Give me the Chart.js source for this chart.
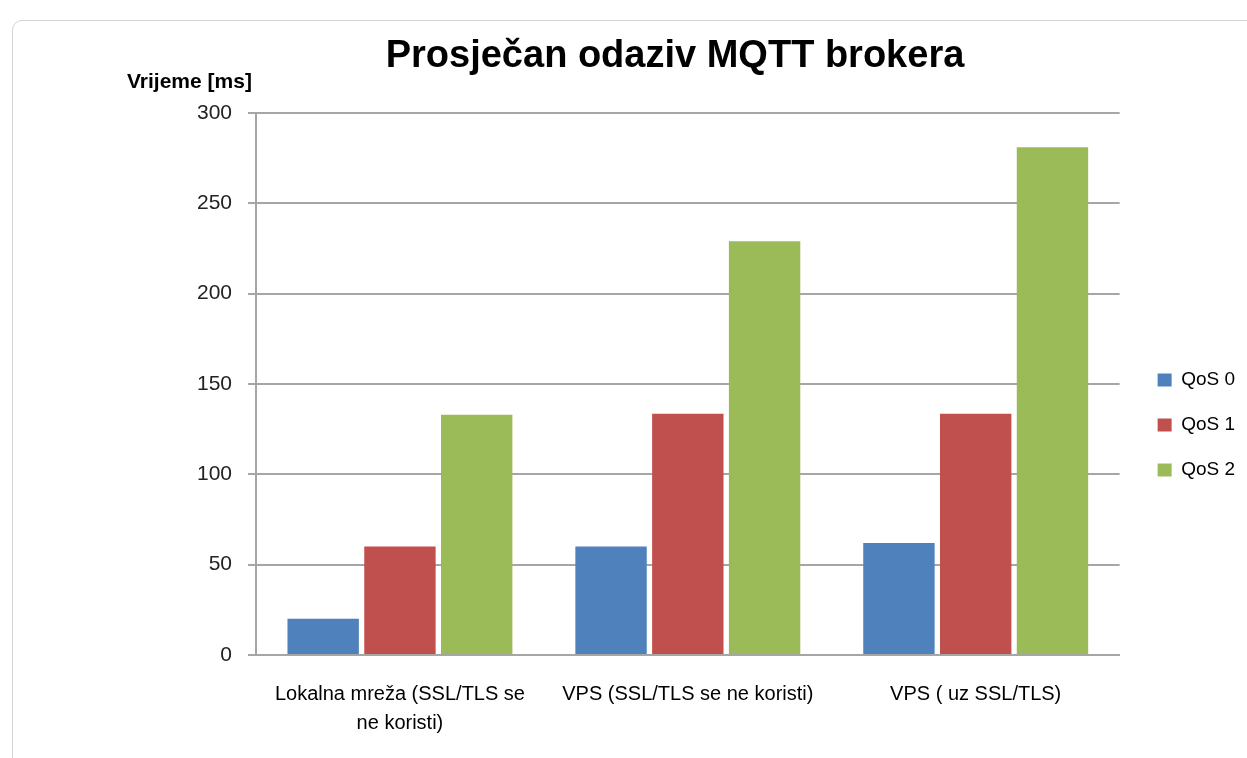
<!DOCTYPE html>
<html>
<head>
<meta charset="utf-8">
<script src="https://cdn.jsdelivr.net/npm/chart.js@4.4.0/dist/chart.umd.min.js"></script>
<style>
    html, body { margin: 0; padding: 0; background: #fff; overflow: hidden; }
    #frame { position: absolute; left: 12px; top: 20px; width: 1260px; height: 760px;
             border: 1px solid #d4d4d4; border-radius: 10px; }
    #wrap { position: absolute; left: 0; top: 0; width: 1247px; height: 758px; }
</style>
</head>
<body>
<div id="frame"></div>
<div id="wrap"><canvas id="myChart"></canvas></div>
<script>
// 카테고리 (x축)
let categories = [
    ["Lokalna mreža (SSL/TLS se", "ne koristi)"],
    "VPS (SSL/TLS se ne koristi)",
    "VPS ( uz SSL/TLS)"
];

// 시리즈 값
let seriesNames = ["QoS 0", "QoS 1", "QoS 2"];
let qos0 = [20, 60, 62];
let qos1 = [60, 133.5, 133.5];
let qos2 = [133, 229, 281];

// y축 눈금
let yTicks = [0, 50, 100, 150, 200, 250, 300];

let chartTitle = "Prosječan odaziv MQTT brokera";
let yTitle = "Vrijeme [ms]";

let colors = ["#4F81BD", "#C0504D", "#9BBB59"];
let fontFam = "'Liberation Sans', Arial, sans-serif";

// 제목과 y축 제목을 그리는 플러그인
let titlePlugin = {
    id: "titles",
    afterDraw: function (chart) {
        let c = chart.ctx;
        c.save();
        c.fillStyle = "#000";
        c.textBaseline = "alphabetic";

        c.font = "bold 38px " + fontFam;
        c.textAlign = "center";
        c.fillText(chartTitle, 675, 67);

        c.font = "bold 21px " + fontFam;
        c.textAlign = "left";
        c.fillText(yTitle, 127, 88);
        c.restore();
    }
};

let config = {
    type: "bar",
    data: {
        labels: categories,
        datasets: [
            { label: seriesNames[0], data: qos0, backgroundColor: colors[0] },
            { label: seriesNames[1], data: qos1, backgroundColor: colors[1] },
            { label: seriesNames[2], data: qos2, backgroundColor: colors[2] }
        ]
    },
    options: {
        responsive: true,
        maintainAspectRatio: false,
        animation: false,
        layout: { padding: { left: 0, right: 2, top: 113, bottom: 0 } },
        datasets: {
            bar: { categoryPercentage: 0.8, barPercentage: 0.93, borderWidth: 0 }
        },
        plugins: {
            title: { display: false },
            legend: {
                position: "right",
                fullSize: false,
                title: {
                    display: true,
                    text: " ",
                    font: { size: 10 },
                    padding: { top: 70, bottom: 0 }
                },
                labels: {
                    boxWidth: 14,
                    boxHeight: 13,
                    padding: 26,
                    color: "#000",
                    font: { family: fontFam, size: 19 }
                }
            },
            tooltip: { enabled: false }
        },
        scales: {
            x: {
                grid: { display: false },
                border: { display: true, color: "#a6a6a6", width: 2 },
                ticks: {
                    color: "#000",
                    padding: 17,
                    maxRotation: 0,
                    autoSkip: false,
                    font: { family: fontFam, size: 20, lineHeight: 1.45 }
                },
                afterFit: function (scale) { scale.height = 103; }
            },
            y: {
                min: 0,
                max: yTicks[yTicks.length - 1],
                afterBuildTicks: function (scale) {
                    scale.ticks = yTicks.map(function (v) { return { value: v }; });
                },
                grid: { color: "#a6a6a6", lineWidth: 2, tickLength: 8 },
                border: { display: true, color: "#a6a6a6", width: 2 },
                ticks: {
                    color: "#222",
                    padding: 16,
                    font: { family: fontFam, size: 21 }
                },
                afterFit: function (scale) { scale.width = 256; }
            },
            // 오른쪽 여백용 빈 축
            gap: {
                position: "right",
                grid: { display: false },
                border: { display: false },
                ticks: { display: false },
                afterFit: function (scale) { scale.width = 12; }
            }
        }
    },
    plugins: [titlePlugin]
};

let ctx = document.getElementById("myChart");
new Chart(ctx, config);
</script>
</body>
</html>
